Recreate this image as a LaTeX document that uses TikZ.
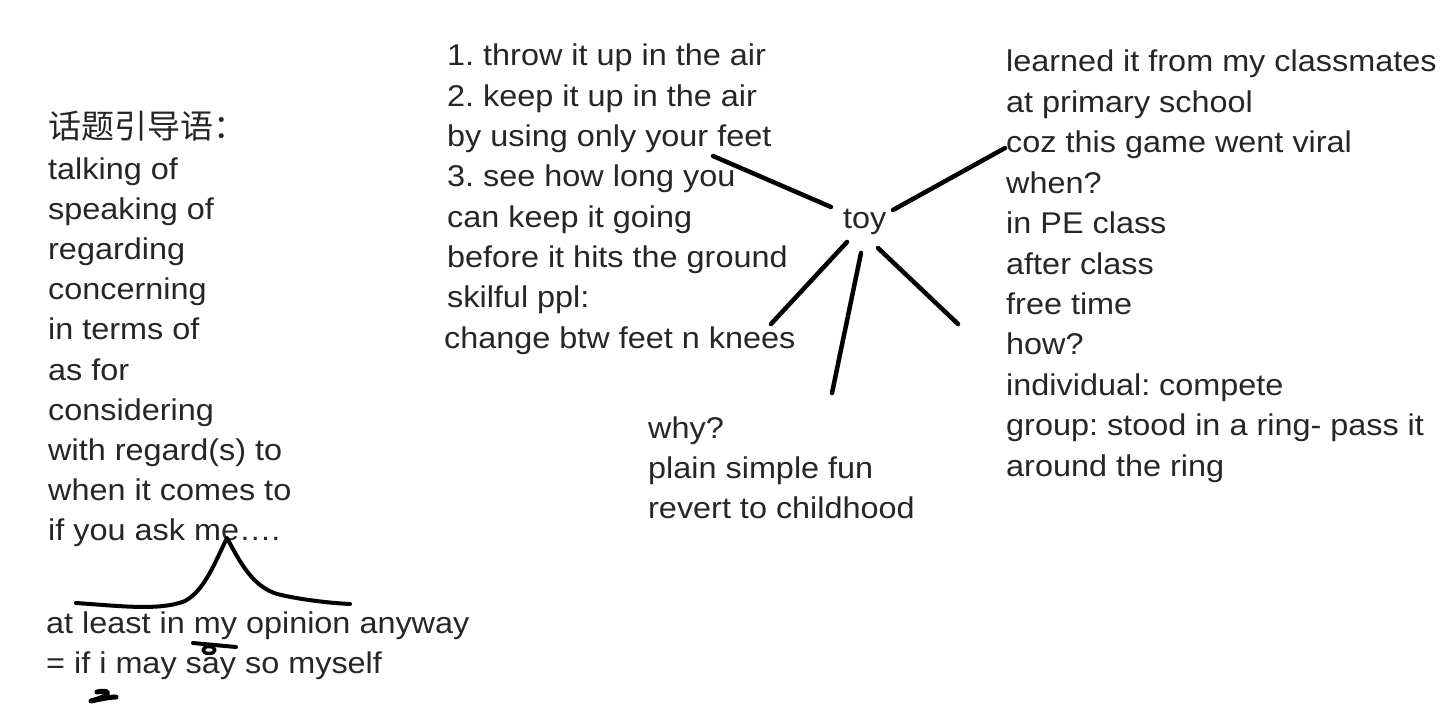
\documentclass[tikz,border=0pt]{standalone}
\usepackage{fontspec}
\setmainfont{Liberation Sans}[FakeStretch=1.08]
\newfontfamily\cjk{Noto Sans CJK SC}
\begin{document}
\frenchspacing
\begin{tikzpicture}[x=1pt,y=-1pt,
  txt/.style={anchor=base west,inner sep=0pt,font=\fontsize{30}{40}\selectfont\frenchspacing,text=black!85},
  stroke/.style={line width=4.5pt,line cap=round,black},
  ink/.style={line width=4pt,line cap=round,line join=round,black}]
\useasboundingbox[fill=white] (0,0) rectangle (1450,714);

% left column
\node[txt] (l0) at (48,139) {\cjk\fontsize{33}{40}\selectfont 话题引导语：};
\foreach \t [count=\i] in {talking of,speaking of,regarding,concerning,in terms of,as for,considering,with regard(s) to,when it comes to,if you ask me….}
  \node[txt] (l\i) at (48,{179+40.2*(\i-1)}) {\t};
\node[txt] (l11) at (46,633) {at least in my opinion anyway};
\node[txt] (l12) at (46,673) {= if i may say so myself};

% middle column
\foreach \t [count=\i] in {1. throw it up in the air,2. keep it up in the air,by using only your feet,3. see how long you,can keep it going,before it hits the ground,skilful ppl:}
  \node[txt] (m\i) at (447,{66+40.3*(\i-1)}) {\t};
\node[txt] (m8) at (444,348) {change btw feet n knees};

% bottom column
\foreach \t [count=\i] in {why?,plain simple fun,revert to childhood}
  \node[txt] (b\i) at (648,{438+40*(\i-1)}) {\t};

% right column
\foreach \t [count=\i] in {learned it from my classmates,at primary school,coz this game went viral,when?,in PE class,after class,free time,how?,individual: compete,group: stood in a ring- pass it,around the ring}
  \node[txt] (r\i) at (1006,{72+40.4*(\i-1)}) {\t};

% centre
\node[txt] (toy) at (843,229) {toy};

% connector ends
\coordinate (a1) at (831,207); \coordinate (e1) at (713,156);
\coordinate (a2) at (893,210); \coordinate (e2) at (1005,148);
\coordinate (a3) at (847,242); \coordinate (e3) at (771,324);
\coordinate (a4) at (861,253); \coordinate (e4) at (832,393);
\coordinate (a5) at (878,248); \coordinate (e5) at (958,324);
\foreach \k in {1,...,5} \draw[stroke] (a\k) -- (e\k);

% handwritten marks
\draw[ink] (76,603) .. controls (120,606) and (160,611) .. (185,601)
  .. controls (205,590) and (215,562) .. (227,538)
  .. controls (240,562) and (252,586) .. (277,594)
  .. controls (302,600) and (330,603) .. (350,604);
\draw[ink,line width=4pt] (193,643) -- (236,647);
\draw[ink,line width=3.5pt] (209,650) ellipse (6 and 3.5);
\draw[ink,line width=5pt] (97,692) .. controls (110,689) and (114,695) .. (91,701)
  .. controls (100,699) and (110,697) .. (116,697);
\end{tikzpicture}
\end{document}
